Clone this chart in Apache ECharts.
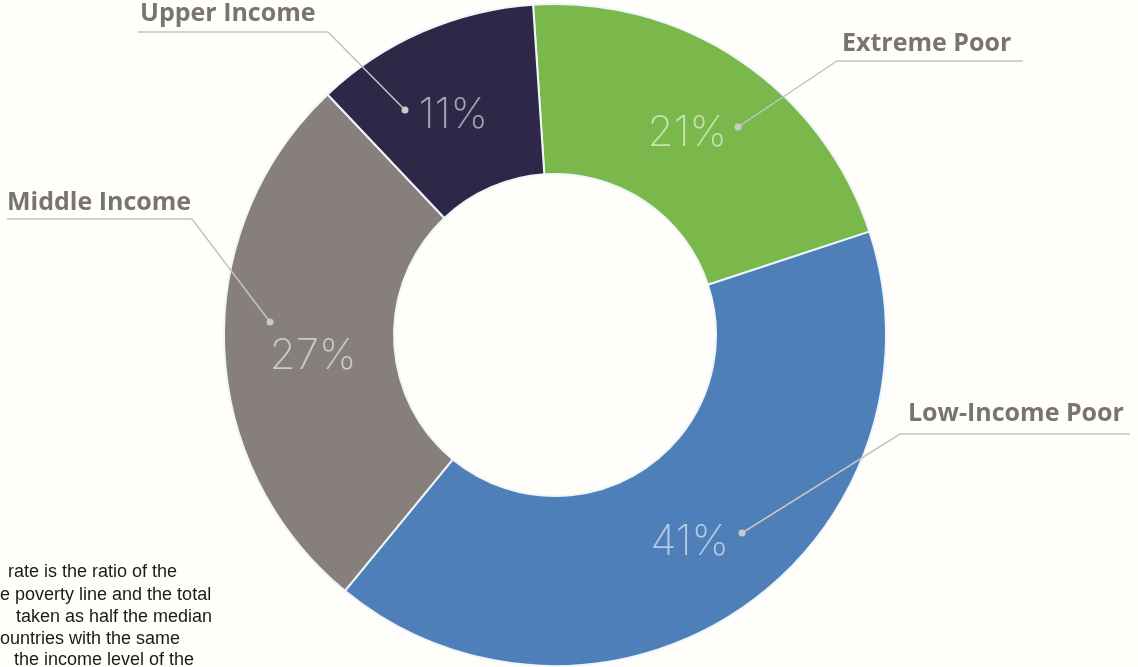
<!DOCTYPE html>
<html>
<head>
<meta charset="utf-8">
<script src="https://cdn.jsdelivr.net/npm/echarts@6/dist/echarts.min.js"></script>
<style>
  html, body { margin: 0; padding: 0; background: #fffefa; }
  #chart { width: 1138px; height: 667px; }
</style>
</head>
<body>
<div id="chart"></div>
<script>
// ---- data ----
const categories = ['Extreme Poor', 'Low-Income Poor', 'Middle Income', 'Upper Income'];
const shares = [21, 41, 27, 11];
const sliceColors = ['#7ab84c', '#4f7fb8', '#877f7b', '#2f2748'];
const noteLines = ['rate is the ratio of the', 'e poverty line and the total', 'taken as half the median', 'ountries with the same', 'the income level of the'];

// ---- callout layout (label anchor + leader line: dot, elbow, underline end) ----
const calloutText = [[842, 44], [908, 414], [7, 203], [140, 14]];
const calloutDot = [[738, 127], [742, 533], [270, 322], [405, 110]];
const calloutElbow = [[837, 61], [900, 434], [192, 219], [328, 32]];
const calloutEnd = [[1023, 61], [1130, 434], [7, 219], [138, 32]];
const pctOffset = [[-7, 5], [-6, 2], [7, 13], [-2, 9]];
const noteX = [8, 0, 16, 0, 14];
const noteY = [570, 593, 615, 637, 658];

const chart = echarts.init(document.getElementById('chart'), null, { renderer: 'canvas' });

const pieData = categories.map((c, i) => ({
  name: c, value: shares[i],
  itemStyle: { color: sliceColors[i] },
  label: { offset: pctOffset[i] }
}));
const ghostData = categories.map((c, i) => ({ name: c, value: shares[i] }));

const graphics = [];
noteLines.forEach((t, i) => {
  graphics.push({
    type: 'text', left: noteX[i], top: noteY[i] - 7, z: 0,
    style: { text: t, fontFamily: 'Liberation Sans, Arial, sans-serif', fontSize: 18, fill: '#1a1a1a' }
  });
});
calloutDot.forEach((p) => {
  graphics.push({
    type: 'circle', z: 100, shape: { cx: p[0], cy: p[1], r: 3.5 },
    style: { fill: '#c9c9c9' }
  });
});

chart.setOption({
  backgroundColor: '#fffefa',
  animation: false,
  graphic: graphics,
  series: [
    {
      type: 'pie',
      center: [555, 335],
      radius: [161, 331],
      startAngle: 93.8,
      clockwise: true,
      avoidLabelOverlap: false,
      silent: true,
      z: 2,
      itemStyle: { borderColor: '#eef6fa', borderWidth: 2 },
      label: {
        show: true,
        position: 'inside',
        formatter: '{c}%',
        fontFamily: 'Inter, Lato, sans-serif',
        fontWeight: 200,
        fontSize: 42,
        color: 'rgba(255,255,255,0.58)'
      },
      labelLine: { show: false },
      data: pieData
    },
    {
      type: 'pie',
      center: [555, 335],
      radius: [161, 331],
      startAngle: 93.8,
      clockwise: true,
      avoidLabelOverlap: false,
      silent: true,
      z: 3,
      itemStyle: { color: 'rgba(0,0,0,0)', borderWidth: 0 },
      label: {
        show: true,
        position: 'outside',
        formatter: '{b}',
        fontFamily: 'Open Sans, sans-serif',
        fontWeight: 'bold',
        fontSize: 25,
        color: '#787472'
      },
      labelLine: {
        show: true,
        length: 20,
        length2: 20,
        lineStyle: { color: '#c4c4c4', width: 1.5 }
      },
      labelLayout: function (params) {
        const i = params.dataIndex;
        return {
          x: calloutText[i][0],
          y: calloutText[i][1],
          align: 'left',
          verticalAlign: 'middle',
          labelLinePoints: [calloutDot[i], calloutElbow[i], calloutEnd[i]]
        };
      },
      data: ghostData
    }
  ]
});
</script>
</body>
</html>
